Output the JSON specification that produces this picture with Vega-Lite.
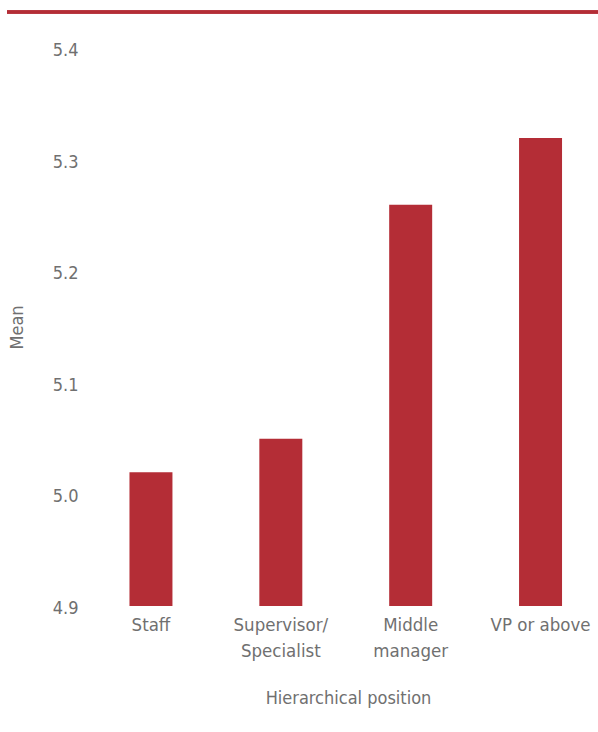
{
  "$schema": "https://vega.github.io/schema/vega-lite/v6.json",
  "autosize": {"type": "none"},
  "padding": {"left": 7, "top": 12, "right": 0, "bottom": 126},
  "width": 591,
  "height": 594,
  "config": {
    "view": {"stroke": null},
    "font": "DejaVu Sans Condensed, Roboto, sans-serif",
    "axis": {"labelFont": "DejaVu Sans Condensed, Roboto, sans-serif", "titleFont": "DejaVu Sans Condensed, Roboto, sans-serif", "labelColor": "#707070", "titleColor": "#707070", "titleFontWeight": "normal"}
  },
  "data": {"values": [
    {"position": "Staff", "mean": 5.02},
    {"position": "Supervisor/|Specialist", "mean": 5.05},
    {"position": "Middle|manager", "mean": 5.26},
    {"position": "VP or above", "mean": 5.32}
  ]},
  "layer": [
    {
      "mark": {"type": "bar", "color": "#b42d36"},
      "encoding": {
        "x": {
          "field": "position", "type": "nominal", "sort": null,
          "scale": {"paddingInner": 0.669, "paddingOuter": 0.61, "align": 0.773},
          "axis": {"title": "Hierarchical position", "labelAngle": 0, "ticks": false, "domain": false, "labelPadding": 9, "labelFontSize": 18.5, "labelLineHeight": 26, "labelExpr": "split(datum.label, '|')", "titleFontSize": 18, "titlePadding": 30, "titleX": 341, "titleAnchor": "start", "titleAlign": "center"}
        },
        "y": {
          "field": "mean", "type": "quantitative",
          "scale": {"domain": [4.9, 5.433], "nice": false, "zero": false},
          "axis": {"title": "Mean", "values": [4.9, 5.0, 5.1, 5.2, 5.3, 5.4], "format": ".1f", "grid": false, "domain": false, "ticks": false, "labelPadding": 0, "offset": -71, "labelFontSize": 18, "labelOffset": 2, "titleFontSize": 18, "titleX": -61, "titleY": 315, "titleBaseline": "middle", "titleAnchor": "start", "titleAlign": "center"}
        },
        "y2": {"datum": 4.9}
      }
    },
    {
      "mark": {"type": "rule", "color": "#b42d36", "strokeWidth": 3},
      "encoding": {"y": {"datum": 5.433}}
    }
  ]
}
